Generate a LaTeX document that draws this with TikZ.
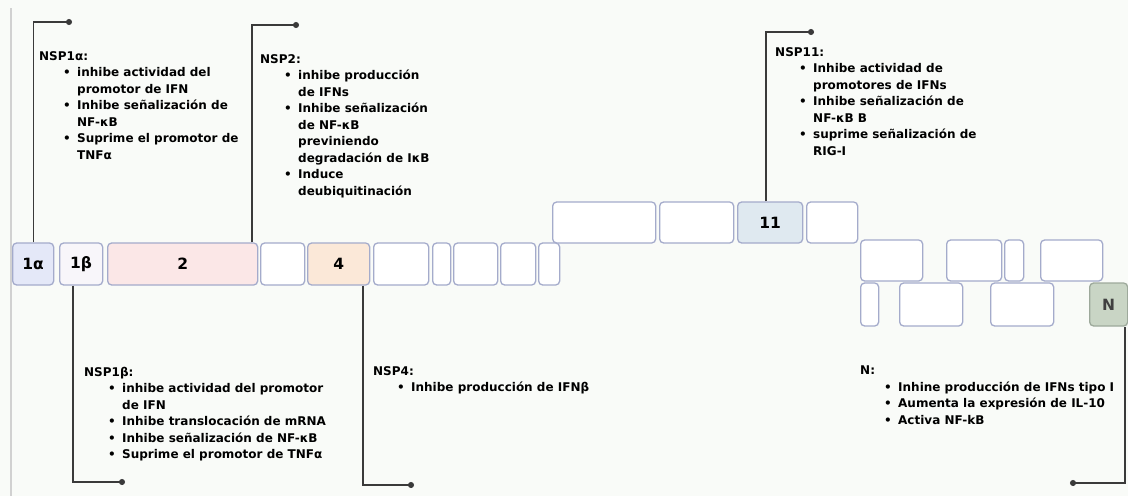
\documentclass[tikz,border=0pt]{standalone}
\usepackage{fontspec}
\setmainfont{DejaVu Sans}
\usetikzlibrary{arrows.meta}
\definecolor{bgcol}{HTML}{F9FBF8}
\definecolor{edgecol}{HTML}{A4ABCB}
\definecolor{leadcol}{HTML}{3A3A3A}
\definecolor{fillA}{HTML}{E4E8F8}
\definecolor{fillB}{HTML}{F8F6FA}
\definecolor{fillTwo}{HTML}{FBE7E7}
\definecolor{fillFour}{HTML}{FBE8D8}
\definecolor{fillEleven}{HTML}{DFE9F0}
\definecolor{fillN}{HTML}{C9D5C5}
\definecolor{edgeN}{HTML}{9DA99B}
\newcommand{\itm}{\hspace*{24pt}\makebox[14pt][l]{\textbullet}}
\newcommand{\itc}{\hspace*{38pt}}
\begin{document}
\begin{tikzpicture}[x=1pt,y=-1pt,
  box/.style={draw=edgecol, fill=white, line width=1.3pt, rounded corners=4pt, anchor=west,
    inner sep=0pt, font=\fontsize{15.5}{15.5}\selectfont\bfseries},
  note/.style={anchor=north west, inner sep=0pt, align=left,
    font=\fontsize{12}{16.5}\selectfont\bfseries},
  leader/.style={draw=leadcol, line width=1.3pt, -{Circle[length=6pt]}}]
\fill[bgcol] (0,0) rectangle (1128,496);
\useasboundingbox (0,0) rectangle (1128,496);
\draw[black!18, line width=1.6pt] (11,8) -- (11,496);

\node[box, fill=fillA, minimum width=41pt, minimum height=42pt] (n1a) at (12,264) {1α};
\node[box, fill=fillB, minimum width=43pt, minimum height=42pt] (n1b) at (59,264) {1β};
\node[box, fill=fillTwo, minimum width=150pt, minimum height=42pt] (n2) at (107,264) {2};
\node[box, minimum width=44pt, minimum height=42pt] (n3) at (260,264) {};
\node[box, fill=fillFour, minimum width=62pt, minimum height=42pt] (n4) at (307,264) {4};
\node[box, minimum width=55pt, minimum height=42pt] (n5) at (373,264) {};
\node[box, minimum width=18pt, minimum height=42pt] (n6) at (432,264) {};
\node[box, minimum width=44pt, minimum height=42pt] (n7) at (453,264) {};
\node[box, minimum width=35pt, minimum height=42pt] (n8) at (500,264) {};
\node[box, minimum width=21pt, minimum height=42pt] (n9) at (538,264) {};

\node[box, minimum width=103pt, minimum height=41pt] (n10) at (552,222.5) {};
\node[box, minimum width=74pt, minimum height=41pt] (n10b) at (659,222.5) {};
\node[box, fill=fillEleven, minimum width=65pt, minimum height=41pt] (n11) at (737,222.5) {11};
\node[box, minimum width=51pt, minimum height=41pt] (n12) at (806,222.5) {};

\node[box, minimum width=62pt, minimum height=41pt] (n13) at (860,260.5) {};
\node[box, minimum width=55pt, minimum height=41pt] (n14) at (946,260.5) {};
\node[box, minimum width=19pt, minimum height=41pt] (n15) at (1004,260.5) {};
\node[box, minimum width=62pt, minimum height=41pt] (n16) at (1040,260.5) {};

\node[box, minimum width=18pt, minimum height=43pt] (n17) at (860,304.5) {};
\node[box, minimum width=63pt, minimum height=43pt] (n18) at (899,304.5) {};
\node[box, minimum width=63pt, minimum height=43pt] (n19) at (990,304.5) {};
\node[box, draw=edgeN, fill=fillN, text=black!75, minimum width=38pt, minimum height=43pt] (nN) at (1089,304.5) {N};

\node[note] (t1a) at (39,51) {NSP1α:\\
\itm inhibe actividad del\\ \itc promotor de IFN\\
\itm Inhibe señalización de\\ \itc NF-κB\\
\itm Suprime el promotor de\\ \itc TNFα};
\node[note] (t2) at (260,54) {NSP2:\\
\itm inhibe producción\\ \itc de IFNs\\
\itm Inhibe señalización\\ \itc de NF-κB\\ \itc previniendo\\ \itc degradación de IκB\\
\itm Induce\\ \itc deubiquitinación};
\node[note] (t11) at (775,47) {NSP11:\\
\itm Inhibe actividad de\\ \itc promotores de IFNs\\
\itm Inhibe señalización de\\ \itc NF-κB B\\
\itm suprime señalización de\\ \itc RIG-I};
\node[note] (t1b) at (84,367) {NSP1β:\\
\itm inhibe actividad del promotor\\ \itc de IFN\\
\itm Inhibe translocación de mRNA\\
\itm Inhibe señalización de NF-κB\\
\itm Suprime el promotor de TNFα};
\node[note] (t4) at (373,366) {NSP4:\\
\itm Inhibe producción de IFNβ};
\node[note] (tN) at (860,366) {N:\\
\itm Inhine producción de IFNs tipo I\\
\itm Aumenta la expresión de IL-10\\
\itm Activa NF-kB};

\coordinate (d1a) at (72,22);
\coordinate (k2) at (252,25);
\coordinate (d2) at (299,25);
\coordinate (k11) at (766,32);
\coordinate (d11) at (814,32);
\coordinate (k1b) at (73,482);
\coordinate (d1b) at (125,482);
\coordinate (k4) at (363,485);
\coordinate (d4) at (414,485);
\coordinate (kN) at (1125,483);
\coordinate (dN) at (1070,483);

\draw[leader] (n1a.north) |- (d1a);
\draw[leader] (n2.north -| k2) |- (d2);
\draw[leader] (n11.north -| k11) |- (d11);
\draw[leader] (n1b.south -| k1b) |- (d1b);
\draw[leader] (n4.south -| k4) |- (d4);
\draw[leader] (nN.south -| kN) |- (dN);
\end{tikzpicture}
\end{document}
